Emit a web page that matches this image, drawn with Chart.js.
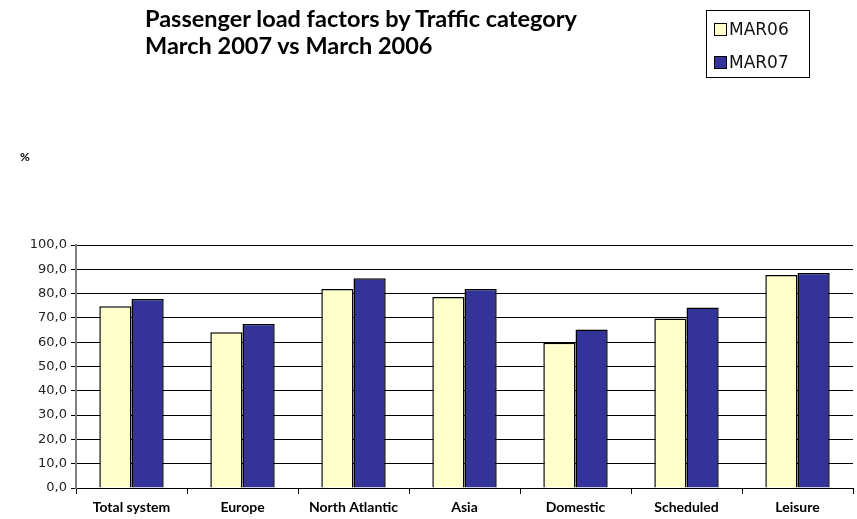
<!DOCTYPE html>
<html>
<head>
<meta charset="utf-8">
<script src="https://cdn.jsdelivr.net/npm/chart.js@4/dist/chart.umd.min.js"></script>
<style>
  body { margin: 0; background: #fff; }
  #wrap { position: relative; width: 857px; height: 519px; }
  #myChart { position: absolute; left: 0; top: 0; }
  #title { position: absolute; left: 145px; top: 5px; font: bold 23.5px Lato, sans-serif; line-height: 27px; color: #000; }
  #pct { position: absolute; left: 20px; top: 149px; font: bold 12px Lato, sans-serif; }
  #legend { position: absolute; left: 706px; top: 10px; width: 104px; height: 68px; border: 1px solid #000; box-sizing: border-box;
            font: 17px "DejaVu Sans", sans-serif; color: #111; }
  #legend div { position: absolute; left: 7px; height: 20px; line-height: 20px; }
  #legend span { display: inline-block; width: 11px; height: 11px; border: 1px solid #000; margin-right: 2px; vertical-align: -1px; }
</style>
</head>
<body>
<div id="wrap">
  <canvas id="myChart" width="857" height="519"></canvas>
  <div id="title">Passenger load factors by Traffic category<br>March 2007 vs March 2006</div>
  <div id="pct">%</div>
  <div id="legend"></div>
</div>
<script>
const categorias = ['Total system', 'Europe', 'North Atlantic', 'Asia', 'Domestic', 'Scheduled', 'Leisure'];
const mar06 = [74.8, 64.1, 81.9, 78.6, 59.8, 69.8, 87.7];
const mar07 = [77.8, 67.5, 86.3, 81.9, 65.2, 74.3, 88.5];
const series = ['MAR06', 'MAR07'];
const colores = ['#FFFFCC', '#333399'];

const datasets = [mar06, mar07].map((valores, i) => ({
    label: series[i],
    data: valores,
    backgroundColor: colores[i],
    borderColor: '#000',
    borderWidth: 1.5,
    borderSkipped: 'bottom',
    categoryPercentage: 0.58,
    barPercentage: 1
}));

// leyenda en html, igual que el cuadro del original
const legend = document.getElementById('legend');
series.forEach((nombre, i) => {
    const item = document.createElement('div');
    item.style.top = (8 + i * 33) + 'px';
    item.innerHTML = `<span style="background:${colores[i]}"></span>${nombre}`;
    legend.appendChild(item);
});

const ctx = document.getElementById('myChart').getContext('2d');
const myChart = new Chart(ctx, {
    type: 'bar',
    data: {
        labels: categorias,
        datasets: datasets
    },
    options: {
        responsive: false,
        animation: false,
        layout: { padding: { top: 245, right: 4, left: 0, bottom: 0 } },
        plugins: {
            legend: { display: false },
            title: { display: false },
            tooltip: { enabled: false }
        },
        scales: {
            x: {
                grid: { drawOnChartArea: false, tickLength: 6, color: '#000', offset: true },
                border: { color: '#000', width: 1 },
                ticks: { color: '#000', font: { family: 'Lato', weight: 'bold', size: 14 }, padding: 5 },
                afterFit: scale => { scale.height = 31; }
            },
            y: {
                min: 0,
                max: 100,
                ticks: {
                    stepSize: 10,
                    color: '#222',
                    padding: 4,
                    font: { family: 'DejaVu Sans', size: 13 },
                    callback: v => v.toFixed(1).replace('.', ',')
                },
                grid: { color: '#000', lineWidth: 1, tickLength: 5 },
                border: { color: '#808080', width: 2 },
                afterFit: scale => { scale.width = 76; }
            }
        }
    }
});
</script>
</body>
</html>
